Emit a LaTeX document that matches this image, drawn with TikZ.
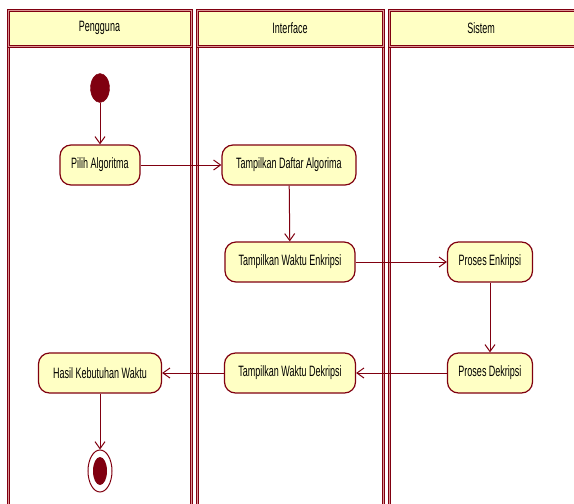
\documentclass[tikz,border=0pt]{standalone}
\usepackage{fontspec}
\setmainfont{Liberation Sans}[FakeStretch=0.6]
\usetikzlibrary{arrows.meta,shapes.geometric}
\definecolor{umlred}{RGB}{128,0,16}
\definecolor{umlfill}{RGB}{255,255,196}
\definecolor{lanein}{RGB}{220,150,150}
\begin{document}
\begin{tikzpicture}[x=1pt,y=-1pt,
  lane/.style={draw=umlred,line width=1pt,double=lanein,double distance=1pt},
  head/.style={lane,fill=umlfill},
  act/.style={draw=umlred,line width=1.2pt,fill=umlfill,rounded corners=11pt,
    minimum height=40pt,inner xsep=6pt,font=\fontsize{15}{17}\selectfont},
  flow/.style={draw=umlred,line width=1pt,-{Straight Barb[length=7pt,width=10pt]}},
  ttl/.style={font=\fontsize{15}{17}\selectfont}]
\useasboundingbox (0,0) rectangle (574,504);
% lanes
\draw[lane] (8,46) rectangle (191,520);
\draw[head] (8,10) rectangle (191,46);
\draw[lane] (197,46) rectangle (383,520);
\draw[head] (197,10) rectangle (383,46);
\draw[lane] (389,46) rectangle (590,520);
\draw[head] (389,10) rectangle (590,46);
\node[ttl] (h1) at (99.5,28) {Pengguna};
\node[ttl] (h2) at (290,28) {Interface};
\node[ttl] (h3) at (481,28) {Sistem};
% nodes
\node[ellipse,fill=umlred,draw=umlred,minimum width=19pt,minimum height=29pt,inner sep=0pt] (start) at (100,88) {};
\node[act,minimum width=80pt] (pilih) at (100,165) {Pilih Algoritma};
\node[act,minimum width=134pt] (daftar) at (289,165) {Tampilkan Daftar Algorima};
\node[act,minimum width=130pt] (wenk) at (290,262) {Tampilkan Waktu Enkripsi};
\node[act,minimum width=85pt] (penk) at (490,262) {Proses Enkripsi};
\node[act,minimum width=85pt] (pdek) at (490,373) {Proses Dekripsi};
\node[act,minimum width=131pt] (wdek) at (290,373) {Tampilkan Waktu Dekripsi};
\node[act,minimum width=123pt] (hasil) at (100,373) {Hasil Kebutuhan Waktu};
\node[ellipse,draw=umlred,line width=1pt,fill=white,minimum width=24pt,minimum height=42pt,inner sep=0pt] (end) at (100,471) {};
\node[ellipse,fill=umlred,minimum width=14pt,minimum height=28pt,inner sep=0pt] (endin) at (end.center) {};
% flows
\draw[flow] (start) -- (pilih);
\draw[flow] (pilih) -- (daftar);
\draw[flow] (daftar) -- (wenk);
\draw[flow] (wenk) -- (penk);
\draw[flow] (penk) -- (pdek);
\draw[flow] (pdek) -- (wdek);
\draw[flow] (wdek) -- (hasil);
\draw[flow] (hasil) -- (end);
\end{tikzpicture}
\end{document}
